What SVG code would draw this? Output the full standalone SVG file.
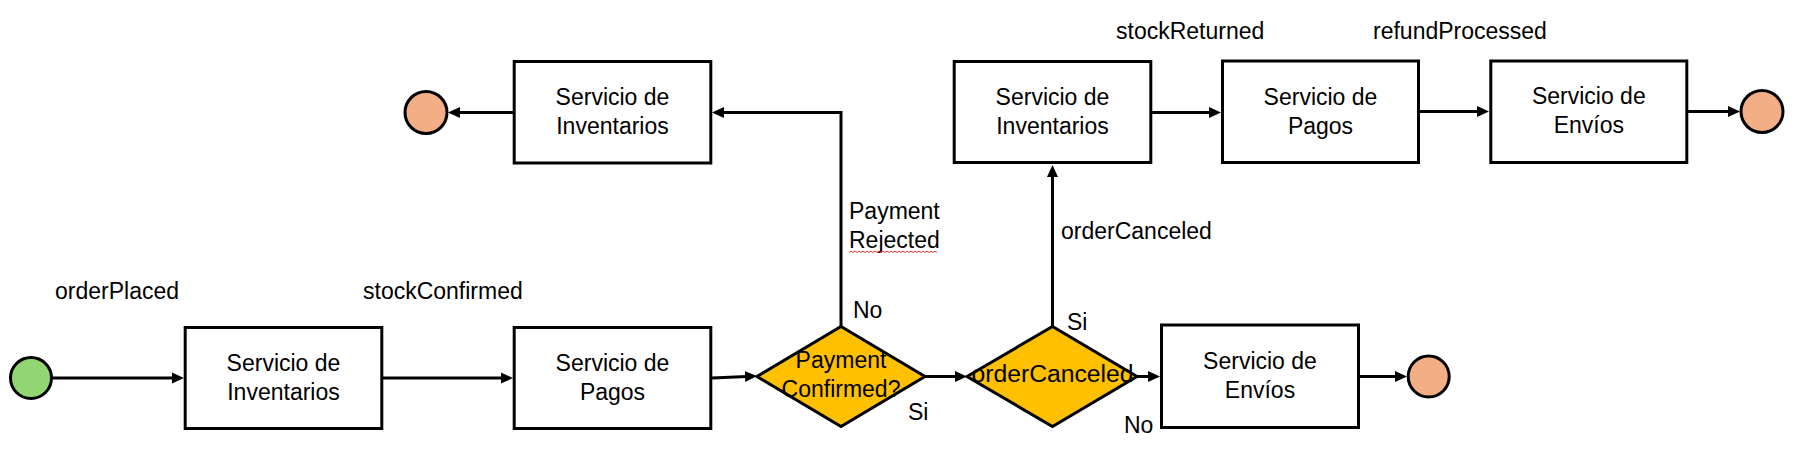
<svg xmlns="http://www.w3.org/2000/svg" width="1794" height="459" viewBox="0 0 1794 459">
<style>
  .box { fill: #ffffff; stroke: #000000; stroke-width: 3; }
  .dia { fill: #FFC000; stroke: #000000; stroke-width: 3; stroke-linejoin: miter; }
  .start { fill: #92D673; stroke: #000000; stroke-width: 3; }
  .end { fill: #F4AE85; stroke: #000000; stroke-width: 3; }
  .conn { fill: none; stroke: #000000; stroke-width: 3; marker-end: url(#arr); }
  text { font-family: "Liberation Sans", Arial, sans-serif; font-size: 23px; fill: #000000; }
  .c { text-anchor: middle; }
</style>
<defs>
  <marker id="arr" markerUnits="userSpaceOnUse" markerWidth="14" markerHeight="14" refX="2" refY="6" orient="auto">
    <path d="M0,0.5 L12,6 L0,11.5 Z" fill="#000000"/>
  </marker>
</defs>
<rect width="1794" height="459" fill="#ffffff"/>

<g id="connectors">
  <path class="conn" d="M52,378 H174"/>
  <path class="conn" d="M383,378 H503"/>
  <path class="conn" d="M712,378 L747,376.5"/>
  <path class="conn" d="M925,376.5 H957"/>
  <path class="conn" d="M1137,376.5 H1150"/>
  <path class="conn" d="M1360,376.5 H1397"/>
  <path class="conn" d="M841,327 V112.5 H722"/>
  <path class="conn" d="M513,112.5 H458"/>
  <path class="conn" d="M1052.5,327 V175"/>
  <path class="conn" d="M1152,112.5 H1211"/>
  <path class="conn" d="M1420,111.5 H1479"/>
  <path class="conn" d="M1688,111.5 H1730"/>
</g>

<g id="labels">
  <text x="55" y="299">orderPlaced</text>
  <text x="363" y="299">stockConfirmed</text>
  <text x="1116" y="39">stockReturned</text>
  <text x="1373" y="39">refundProcessed</text>
  <text x="849" y="219">Payment</text>
  <text x="849" y="248">Rejected</text>
  <path d="M849,252.5 l2,-1.5 l2,1.5 l2,-1.5 l2,1.5 l2,-1.5 l2,1.5 l2,-1.5 l2,1.5 l2,-1.5 l2,1.5 l2,-1.5 l2,1.5 l2,-1.5 l2,1.5 l2,-1.5 l2,1.5 l2,-1.5 l2,1.5 l2,-1.5 l2,1.5 l2,-1.5 l2,1.5 l2,-1.5 l2,1.5 l2,-1.5 l2,1.5 l2,-1.5 l2,1.5 l2,-1.5 l2,1.5 l2,-1.5 l2,1.5 l2,-1.5 l2,1.5 l2,-1.5 l2,1.5 l2,-1.5 l2,1.5 l2,-1.5 l2,1.5 l2,-1.5 l2,1.5 l2,-1.5 l2,1.5" fill="none" stroke="#E03030" stroke-width="1"/>
  <text x="1061" y="239">orderCanceled</text>
  <text x="853" y="318">No</text>
  <text x="908" y="420">Si</text>
  <text x="1067" y="330">Si</text>
  <text x="1124" y="433">No</text>
</g>

<g id="start">
  <circle class="start" cx="31" cy="378" r="20.5"/>
</g>

<g id="inventarios1">
  <rect class="box" x="185.2" y="327.5" width="196.6" height="101"/>
  <text class="c" x="283.5" y="371">Servicio de</text>
  <text class="c" x="283.5" y="400">Inventarios</text>
</g>

<g id="pagos1">
  <rect class="box" x="514.2" y="327.5" width="196.6" height="101"/>
  <text class="c" x="612.5" y="371">Servicio de</text>
  <text class="c" x="612.5" y="400">Pagos</text>
</g>

<g id="paymentConfirmed">
  <polygon class="dia" points="757,376.5 841,326.5 925,376.5 841,426.5"/>
  <text class="c" x="841" y="368">Payment</text>
  <text class="c" x="841" y="397">Confirmed?</text>
</g>

<g id="orderCanceledDecision">
  <polygon class="dia" points="967,376.5 1052.5,326.5 1137,376.5 1052.5,426.5"/>
  <text class="c" x="1052.5" y="382" textLength="162" lengthAdjust="spacingAndGlyphs">orderCanceled</text>
</g>

<g id="envios1">
  <rect class="box" x="1161.5" y="325" width="197" height="102.5"/>
  <text class="c" x="1260" y="369">Servicio de</text>
  <text class="c" x="1260" y="398">Envíos</text>
</g>

<g id="end1">
  <circle class="end" cx="1428.7" cy="376.5" r="20.5"/>
</g>

<g id="inventariosRejected">
  <rect class="box" x="514.2" y="61.5" width="196.6" height="101.5"/>
  <text class="c" x="612.5" y="105">Servicio de</text>
  <text class="c" x="612.5" y="134">Inventarios</text>
</g>

<g id="end2">
  <circle class="end" cx="426" cy="112.5" r="21"/>
</g>

<g id="inventarios2">
  <rect class="box" x="954.2" y="61.5" width="196.6" height="101"/>
  <text class="c" x="1052.5" y="105">Servicio de</text>
  <text class="c" x="1052.5" y="134">Inventarios</text>
</g>

<g id="pagos2">
  <rect class="box" x="1222.5" y="61" width="196" height="101.5"/>
  <text class="c" x="1320.5" y="105">Servicio de</text>
  <text class="c" x="1320.5" y="134">Pagos</text>
</g>

<g id="envios2">
  <rect class="box" x="1490.8" y="61" width="196" height="101.5"/>
  <text class="c" x="1588.8" y="104">Servicio de</text>
  <text class="c" x="1588.8" y="133">Envíos</text>
</g>

<g id="end3">
  <circle class="end" cx="1762" cy="111.5" r="21"/>
</g>
</svg>
